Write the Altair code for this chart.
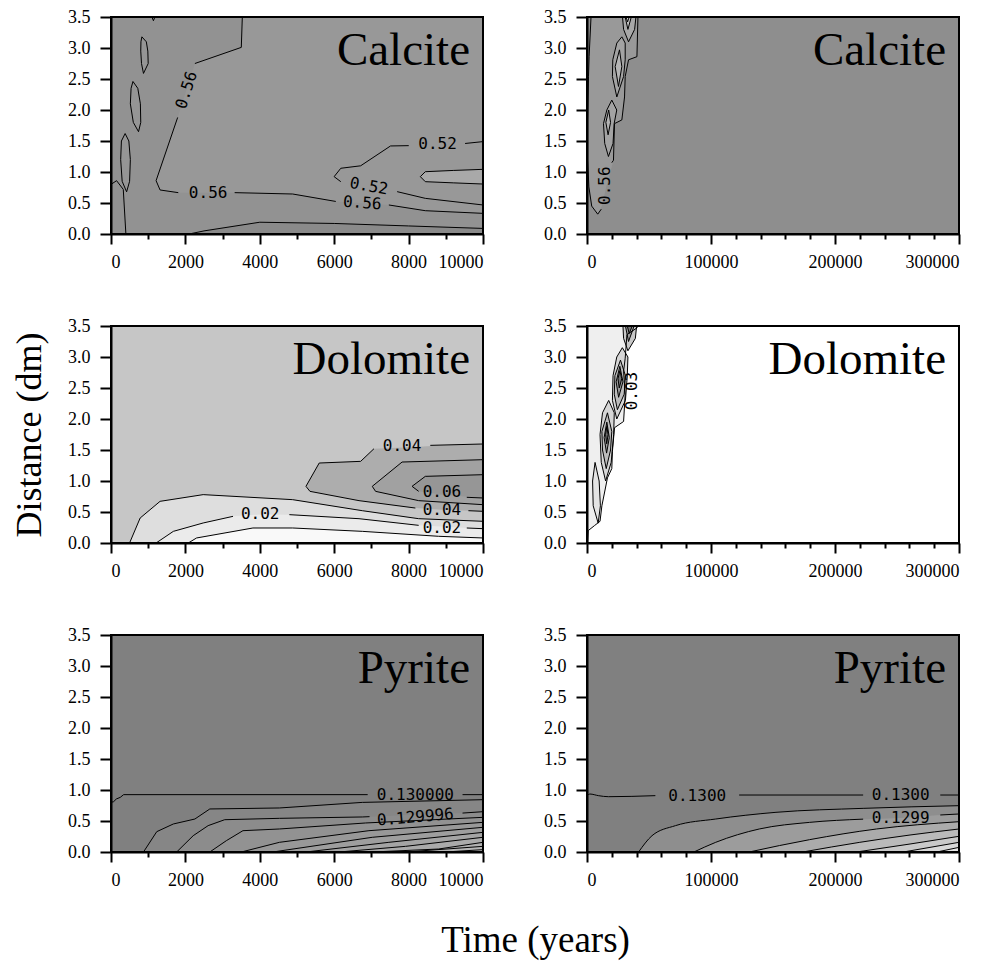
import altair as alt
import pandas as pd

W, H = 372, 217
YMAX = 3.5
Y_TICKS = [0.0, 0.5, 1.0, 1.5, 2.0, 2.5, 3.0, 3.5]

# ================= Calcite, 0-10 000 years =================
CAL_L_NAME = "Calcite"
CAL_L_BG = "#929292"
CAL_L_SPAN_B = [(0.86, 1212, 10000), (1.88, 1792, 10000), (2.75, 2255, 10000),
                (3.01, 3503, 10000), (3.5, 3530, 10000)]
CAL_L_BAND_B = [(1212, 0.86, 0.87), (1319, 0.71, 0.87), (1809, 0.667, 0.87), (3324, 0.667, 0.87),
                (4884, 0.645, 0.87), (6043, 0.525, 0.87), (7469, 0.468, 0.87), (8449, 0.376, 0.87),
                (10000, 0.333, 0.87)]
CAL_L_FLOOR = [(2100, 0, 0), (2500, 0, 0.05), (4000, 0, 0.19), (6000, 0, 0.17),
               (8000, 0, 0.13), (10000, 0, 0.09)]
CAL_L_FILLS = [("h", CAL_L_SPAN_B), ("v", CAL_L_BAND_B), ("v", CAL_L_FLOOR)]
CAL_L_FILL_SHADES = ["#989898", "#989898", "#8a8a8a"]
CAL_L_OVAL_R = [(8316, 0.925, 0.925), (8449, 0.844, 1.005), (9200, 0.825, 1.025), (10000, 0.806, 1.043)]
CAL_L_OVAL_1 = [(2.59, 873, 873), (2.75, 820, 1000), (2.95, 800, 990), (3.10, 805, 950), (3.18, 830, 830)]
CAL_L_OVAL_2 = [(1.65, 740, 740), (1.8, 600, 800), (2.1, 520, 790), (2.35, 540, 720), (2.46, 590, 590)]
CAL_L_OVAL_3 = [(0.68, 420, 420), (0.85, 300, 500), (1.2, 260, 520), (1.5, 280, 480), (1.62, 380, 380)]
CAL_L_RINGS = [("v", CAL_L_OVAL_R), ("h", CAL_L_OVAL_1), ("h", CAL_L_OVAL_2), ("h", CAL_L_OVAL_3)]
CAL_L_RING_SHADES = ["#a9a9a9", "#959595", "#959595", "#959595"]
CAL_L_LINES = [
    [(3530, 3.5), (3503, 3.01), (2255, 2.75)],
    [(1792, 1.88), (1212, 0.86), (1319, 0.71), (1809, 0.667)],
    [(3324, 0.667), (4884, 0.645), (6043, 0.525)],
    [(7469, 0.468), (8449, 0.376), (10000, 0.333)],
    [(10000, 1.49), (9519, 1.46)],
    [(8004, 1.425), (7514, 1.42), (6711, 1.10), (6177, 1.06), (5998, 0.925), (6177, 0.844)],
    [(7692, 0.683), (8449, 0.575), (10000, 0.468)],
    [(2100, 0), (2500, 0.05), (4000, 0.19), (6000, 0.17), (8000, 0.13), (10000, 0.09)],
    [(0, 0.8), (150, 0.86), (330, 0.72), (400, 0)],
    [(1100, 3.5), (1140, 3.44), (1180, 3.5)],
]
CAL_L_LABELS = [("0.56", 2032, 2.32, 288), ("0.56", 2611, 0.667, 0), ("0.56", 6756, 0.50, 4),
                ("0.52", 8779, 1.45, 0), ("0.52", 6934, 0.77, 10)]

# ================= Calcite, 0-300 000 years =================
CAL_R_NAME = "Calcite"
CAL_R_BG = "#8e8e8e"
CAL_R_SPAN = [(0.32, 8650, 8650), (0.45, 3800, 12000), (0.76, 1500, 15500), (1.19, 540, 21350),
              (1.78, 540, 22160), (1.84, 540, 28100), (2.21, 800, 30270), (2.54, 1200, 30800),
              (2.81, 1600, 33500), (2.86, 1700, 40270), (3.5, 3240, 41080)]
CAL_R_FILLS = [("h", CAL_R_SPAN)]
CAL_R_FILL_SHADES = ["#999999"]
CAL_R_A = [(1.25, 17300, 17300), (1.46, 14300, 21000), (1.78, 13300, 21900), (2.0, 16000, 24000), (2.16, 20000, 20000)]
CAL_R_A_IN = [(1.6, 17000, 17000), (1.8, 15200, 19000), (2.0, 17500, 17500)]
CAL_R_B = [(2.21, 24050, 24050), (2.54, 20500, 29500), (2.81, 20800, 30800), (3.08, 24050, 30800), (3.18, 28100, 28100)]
CAL_R_B_IN = [(2.38, 25400, 25400), (2.70, 22700, 28100), (2.97, 26200, 26200)]
CAL_R_C = [(3.1, 33500, 33500), (3.3, 29500, 38400), (3.5, 28650, 39460)]
CAL_R_C_IN = [(3.3, 33000, 33000), (3.5, 30800, 35700)]
CAL_R_C_IN2 = [(3.42, 32700, 32700), (3.5, 31600, 34000)]
CAL_R_RINGS = [("h", CAL_R_A), ("h", CAL_R_A_IN), ("h", CAL_R_B), ("h", CAL_R_B_IN),
               ("h", CAL_R_C), ("h", CAL_R_C_IN), ("h", CAL_R_C_IN2)]
CAL_R_RING_SHADES = ["#a3a3a3", "#b3b3b3", "#a3a3a3", "#b5b5b5", "#a8a8a8", "#c4c4c4", "#e6e6e6"]
CAL_R_LINES = [
    [(3240, 3.5), (1700, 2.86), (1200, 2.54), (540, 1.84), (540, 1.19), (1500, 0.76),
     (3800, 0.45), (8650, 0.32), (11500, 0.40)],
    [(20000, 1.15), (21350, 1.19), (22160, 1.78), (28100, 1.84), (30270, 2.21), (30800, 2.54),
     (33500, 2.81), (40270, 2.86), (41080, 3.5)],
]
CAL_R_LABELS = [("0.56", 14600, 0.78, 270)]

# ================= Dolomite, 0-10 000 years =================
DOL_L_NAME = "Dolomite"
DOL_L_BG = "#c6c6c6"
DOL_L_C1 = [(2077, 0), (2300, 0.081), (3815, 0.242), (4884, 0.242), (6756, 0.188), (8806, 0.108), (10000, 0.081)]
DOL_L_C2 = [(1212, 0), (1676, 0.188), (2478, 0.323), (3280, 0.43), (4011, 0.46), (4795, 0.457),
            (6667, 0.392), (8271, 0.285), (9564, 0.242), (10000, 0.231)]
DOL_L_C3 = [(499, 0), (784, 0.403), (1319, 0.672), (2478, 0.78), (4884, 0.699), (6756, 0.521),
            (8271, 0.392), (10000, 0.35)]
DOL_L_C4 = [(5241, 0.914, 0.914), (5348, 0.833, 1.027), (5597, 0.805, 1.29), (6711, 0.68, 1.317),
            (7068, 0.651, 1.52), (8182, 0.564, 1.55), (8895, 0.538, 1.575), (10000, 0.511, 1.597)]
DOL_L_C5 = [(7023, 0.914, 0.914), (7112, 0.833, 0.957), (7825, 0.741, 1.306), (8271, 0.683, 1.32),
            (10000, 0.618, 1.344)]
DOL_L_C6 = [(8093, 0.914, 0.914), (8271, 0.833, 0.995), (8449, 0.82, 1.075), (8895, 0.78, 1.09),
            (10000, 0.726, 1.102)]
DOL_L_FILLS = [("v", [(x, 0, y) for x, y in DOL_L_C3]), ("v", [(x, 0, y) for x, y in DOL_L_C2]),
               ("v", [(x, 0, y) for x, y in DOL_L_C1]), ("v", DOL_L_C4), ("v", DOL_L_C5), ("v", DOL_L_C6)]
DOL_L_FILL_SHADES = ["#dedede", "#ebebeb", "#f9f9f9", "#adadad", "#a1a1a1", "#969696"]
DOL_L_RINGS = []
DOL_L_RING_SHADES = []
DOL_L_LINES = [
    DOL_L_C1,
    [(1212, 0), (1676, 0.188), (2478, 0.323), (3280, 0.43)],
    [(4795, 0.457), (6667, 0.392), (8271, 0.285)],
    [(9564, 0.242), (10000, 0.231)],
    DOL_L_C3,
    [(10000, 1.597), (8583, 1.575)],
    [(7068, 1.52), (6711, 1.317), (5597, 1.29), (5241, 0.914), (5348, 0.833), (6667, 0.683), (8182, 0.564)],
    [(9608, 0.521), (10000, 0.511)],
    [(10000, 1.344), (7825, 1.306), (7023, 0.914), (7112, 0.833), (8271, 0.683), (10000, 0.618)],
    [(10000, 1.102), (8449, 1.075), (8093, 0.914), (8271, 0.833)],
    [(9564, 0.737), (10000, 0.726)],
]
DOL_L_LABELS = [("0.02", 4011, 0.468, 0), ("0.02", 8895, 0.25, 0), ("0.04", 7825, 1.56, 0),
                ("0.04", 8895, 0.535, 0), ("0.06", 8895, 0.82, 0)]

# ================= Dolomite, 0-300 000 years =================
DOL_R_NAME = "Dolomite"
DOL_R_BG = "#ffffff"
DOL_R_ENV = [(0.0, 0, 500), (0.20, 0, 1000), (0.28, 0, 6000), (0.35, 0, 10500), (0.60, 0, 12000),
             (1.05, 0, 16500), (1.20, 0, 20000), (1.48, 0, 20500), (1.86, 0, 22200), (1.96, 0, 29500),
             (2.39, 0, 30800), (2.77, 0, 29500), (2.98, 0, 30800), (3.36, 0, 32200), (3.47, 0, 40300),
             (3.5, 0, 41000)]
DOL_R_FILLS = [("h", DOL_R_ENV)]
DOL_R_FILL_SHADES = ["#efefef"]
DOL_R_LOW = [(0.32, 9000, 9000), (0.6, 5000, 10800), (1.0, 4500, 9800), (1.3, 6500, 6500)]
DOL_R_L1A = [(1.0, 15000, 15000), (1.3, 11500, 19500), (1.75, 10500, 21500), (2.1, 12500, 22000), (2.3, 17500, 17500)]
DOL_R_L1B = [(1.2, 15500, 15500), (1.5, 12500, 19000), (1.8, 12000, 20000), (2.1, 16500, 16500)]
DOL_R_L1C = [(1.45, 15800, 15800), (1.7, 13800, 18000), (1.95, 16000, 16000)]
DOL_R_L1D = [(1.6, 15900, 15900), (1.75, 15000, 17000), (1.88, 16000, 16000)]
DOL_R_L2A = [(2.0, 24000, 24000), (2.3, 20500, 31000), (2.7, 21000, 32500), (3.0, 24000, 33000), (3.15, 28500, 28500)]
DOL_R_L2B = [(2.15, 24500, 24500), (2.4, 22000, 30000), (2.7, 22500, 31000), (2.95, 27000, 27000)]
DOL_R_L2C = [(2.35, 25500, 25500), (2.6, 23500, 29000), (2.85, 26500, 26500)]
DOL_R_L2D = [(2.5, 26000, 26000), (2.65, 25000, 28000), (2.78, 26500, 26500)]
DOL_R_L3A = [(3.1, 33000, 33000), (3.3, 29500, 39000), (3.5, 29000, 40000)]
DOL_R_L3B = [(3.25, 33500, 33500), (3.5, 31000, 38000)]
DOL_R_L3C = [(3.38, 34000, 34000), (3.5, 32500, 36500)]
DOL_R_RINGS = [("h", r) for r in [DOL_R_LOW, DOL_R_L1A, DOL_R_L1B, DOL_R_L1C, DOL_R_L1D,
                                  DOL_R_L2A, DOL_R_L2B, DOL_R_L2C, DOL_R_L2D,
                                  DOL_R_L3A, DOL_R_L3B, DOL_R_L3C]]
DOL_R_RING_SHADES = ["#e4e4e4", "#d6d6d6", "#bcbcbc", "#9c9c9c", "#7c7c7c",
                     "#d6d6d6", "#bcbcbc", "#9c9c9c", "#747474",
                     "#c8c8c8", "#a0a0a0", "#787878"]
DOL_R_LINES = [[(x, y) for y, _, x in DOL_R_ENV]]
DOL_R_LABELS = [("0.03", 36200, 2.45, 270)]

# ================= Pyrite, 0-10 000 years =================
PYR_L_NAME = "Pyrite"
PYR_L_BG = "#808080"
PYR_L_P1 = [(873, 0), (1230, 0.328), (1676, 0.452), (2255, 0.532), (2656, 0.694), (4528, 0.71), (6756, 0.80), (10000, 0.844)]
PYR_L_P2 = [(1765, 0), (2210, 0.263), (2611, 0.425), (3057, 0.521), (4528, 0.543), (6756, 0.565),
            (8182, 0.60), (9564, 0.63), (10000, 0.65)]
PYR_L_P3 = [(2656, 0), (3102, 0.183), (3547, 0.344), (4528, 0.371), (6845, 0.468), (10000, 0.559)]
PYR_L_P4 = [(3503, 0), (4528, 0.156), (6934, 0.344), (10000, 0.478)]
PYR_L_P5 = [(4350, 0), (7023, 0.237), (10000, 0.398)]
PYR_L_P6 = [(5241, 0), (7469, 0.156), (10000, 0.317)]
PYR_L_P7 = [(6132, 0), (7915, 0.091), (10000, 0.237)]
PYR_L_P8 = [(7023, 0), (8806, 0.048), (10000, 0.156)]
PYR_L_P9 = [(7915, 0), (10000, 0.091)]
PYR_L_P10 = [(8984, 0), (10000, 0.038)]
PYR_L_CURVES = [PYR_L_P1, PYR_L_P2, PYR_L_P3, PYR_L_P4, PYR_L_P5, PYR_L_P6, PYR_L_P7, PYR_L_P8, PYR_L_P9, PYR_L_P10]
PYR_L_FILLS = [("v", [(x, 0, y) for x, y in c]) for c in PYR_L_CURVES]
PYR_L_FILL_SHADES = ["#868686", "#8c8c8c", "#929292", "#989898", "#9e9e9e",
                     "#a4a4a4", "#aaaaaa", "#b0b0b0", "#b6b6b6", "#bcbcbc"]
PYR_L_RINGS = []
PYR_L_RING_SHADES = []
PYR_L_LINES = [
    [(0, 0.80), (71, 0.812), (143, 0.855), (250, 0.882), (339, 0.925), (6900, 0.925)],
    [(9450, 0.925), (10000, 0.925)],
    PYR_L_P1,
    [(1765, 0), (2210, 0.263), (2611, 0.425), (3057, 0.521), (4528, 0.543), (6756, 0.565), (6950, 0.57)],
    [(9450, 0.628), (10000, 0.65)],
    PYR_L_P3, PYR_L_P4, PYR_L_P5, PYR_L_P6, PYR_L_P7, PYR_L_P8, PYR_L_P9, PYR_L_P10,
]
PYR_L_LABELS = [("0.130000", 8182, 0.922, 0), ("0.129996", 8182, 0.56, 355)]

# ================= Pyrite, 0-300 000 years =================
PYR_R_NAME = "Pyrite"
PYR_R_BG = "#808080"
PYR_R_Q1 = [(41620, 0), (52430, 0.263), (71350, 0.425), (103800, 0.532), (152400, 0.64), (222700, 0.704), (300000, 0.747)]
PYR_R_Q2 = [(86200, 0), (103800, 0.156), (138900, 0.371), (179500, 0.478), (222700, 0.53),
            (253000, 0.55), (284900, 0.597), (300000, 0.613)]
PYR_R_Q3 = [(130800, 0), (179500, 0.199), (233500, 0.371), (300000, 0.489)]
PYR_R_Q4 = [(174000, 0), (220000, 0.156), (260500, 0.274), (300000, 0.371)]
PYR_R_Q5 = [(217300, 0), (260500, 0.129), (300000, 0.253)]
PYR_R_Q6 = [(255100, 0), (300000, 0.156)]
PYR_R_Q7 = [(282200, 0), (300000, 0.075)]
PYR_R_CURVES = [PYR_R_Q1, PYR_R_Q2, PYR_R_Q3, PYR_R_Q4, PYR_R_Q5, PYR_R_Q6, PYR_R_Q7]
PYR_R_FILLS = [("v", [(x, 0, y) for x, y in c]) for c in PYR_R_CURVES]
PYR_R_FILL_SHADES = ["#8e8e8e", "#9c9c9c", "#ababab", "#bababa", "#c9c9c9", "#d8d8d8", "#e6e6e6"]
PYR_R_RINGS = []
PYR_R_RING_SHADES = []
PYR_R_LINES = [
    [(0, 0.909), (2430, 0.935), (9190, 0.909), (17300, 0.892), (55135, 0.909)],
    [(122700, 0.919), (222700, 0.919)],
    [(284900, 0.919), (300000, 0.919)],
    PYR_R_Q1,
    [(86200, 0), (103800, 0.156), (138900, 0.371), (179500, 0.478), (222700, 0.53)],
    [(284900, 0.597), (300000, 0.613)],
    PYR_R_Q3, PYR_R_Q4, PYR_R_Q5, PYR_R_Q6, PYR_R_Q7,
]
PYR_R_LABELS = [("0.1300", 88900, 0.909, 0), ("0.1300", 253000, 0.919, 0), ("0.1299", 253000, 0.55, 0)]

ONE = pd.DataFrame({"k": [0]})
SERIF = "Liberation Serif"


def ring_outline(kind, pts):
    if kind == "v":
        fwd = [(x, hi) for x, lo, hi in pts]
        back = [(x, lo) for x, lo, hi in reversed(pts)]
    else:
        fwd = [(xr, y) for y, xl, xr in pts]
        back = [(xl, y) for y, xl, xr in reversed(pts)]
    out = fwd + back
    return out + [out[0]]


def build_panel(name, xmax, major, minor, bg, fills, fill_shades, rings, ring_shades,
                lines, labels, xtitle=None, ytitle=None, interp="linear"):
    xscale = alt.Scale(domain=[0, xmax], nice=False, zero=False)
    yscale = alt.Scale(domain=[0, YMAX], nice=False, zero=False)
    common = dict(labelFont=SERIF, labelFontSize=18, labelColor="black", tickColor="black",
                  tickWidth=2, domainColor="black", domainWidth=2, grid=False, zindex=1)
    xkw = dict(values=list(range(0, xmax + 1, minor)), format="d",
               labelExpr=f"datum.value % {major} === 0 ? datum.label : ''",
               tickSize={"condition": {"test": f"datum.value % {major} === 0", "value": 10}, "value": 5},
               labelPadding=9, **common)
    if xtitle:
        xkw.update(titleX=424, titleY=99, titleBaseline="alphabetic", titleAlign="center",
                   titleFont=SERIF, titleFontSize=37, titleFontWeight="normal",
                   titleColor="black")
    ykw = dict(values=Y_TICKS, format=".1f", tickSize=11, labelPadding=10, **common)
    if ytitle:
        ykw.update(titleX=-71, titleY=H / 2, titleBaseline="alphabetic", titleAlign="center",
                   titleFont=SERIF, titleFontSize=36, titleFontWeight="normal",
                   titleColor="black")
    xaxis = alt.Axis(**xkw)
    yaxis = alt.Axis(**ykw)

    def X(f):
        return alt.X(f, type="quantitative", scale=xscale, axis=xaxis, title=xtitle, stack=None)

    def Y(f):
        return alt.Y(f, type="quantitative", scale=yscale, axis=yaxis, title=ytitle, stack=None)

    layers = [alt.Chart(ONE).mark_rect(color=bg).encode(
        x=alt.value(0), x2=alt.value(W), y=alt.value(0), y2=alt.value(H))]

    def area_layer(kind, pts, shade):
        if kind == "v":
            df = pd.DataFrame(pts, columns=["x", "lo", "hi"])
            return alt.Chart(df).mark_area(color=shade, orient="vertical", interpolate=interp,
                                           clip=True).encode(x=X("x"), y=Y("lo"), y2="hi")
        df = pd.DataFrame(pts, columns=["y", "xl", "xr"])
        return alt.Chart(df).mark_area(color=shade, orient="horizontal", clip=True).encode(
            y=Y("y"), x=X("xl"), x2="xr")

    for (kind, pts), shade in zip(fills, fill_shades):
        layers.append(area_layer(kind, pts, shade))
    for (kind, pts), shade in zip(rings, ring_shades):
        layers.append(area_layer(kind, pts, shade))

    rows = []
    all_lines = list(lines) + [ring_outline(k, p) for k, p in rings]
    for s, seg in enumerate(all_lines):
        for i, (x, y) in enumerate(seg):
            rows.append({"seg": s, "idx": i, "x": x, "y": y})
    ldf = pd.DataFrame(rows)
    layers.append(alt.Chart(ldf).mark_line(color="black", strokeWidth=1, interpolate=interp,
                                           clip=True).encode(
        x=X("x"), y=Y("y"), detail="seg:N", order="idx:Q"))

    tdf = pd.DataFrame(labels, columns=["t", "x", "y", "a"])
    layers.append(alt.Chart(tdf).mark_text(font="DejaVu Sans Mono", fontSize=16, color="black",
                                           align="center", baseline="middle").encode(
        x=X("x"), y=Y("y"), text="t:N", angle=alt.Angle("a:Q", scale=None)))

    layers.append(alt.Chart(pd.DataFrame({"name": [name]})).mark_text(
        font=SERIF, fontSize=47, color="black", align="right",
        baseline="alphabetic").encode(text="name:N", x=alt.value(W - 13), y=alt.value(48)))

    layers.append(alt.Chart(ONE).mark_rect(filled=False, stroke="black", strokeWidth=2).encode(
        x=alt.value(0), x2=alt.value(W), y=alt.value(0), y2=alt.value(H)))

    return alt.layer(*layers).properties(width=W, height=H)


p1 = build_panel(CAL_L_NAME, 10000, 2000, 1000, CAL_L_BG, CAL_L_FILLS, CAL_L_FILL_SHADES,
                 CAL_L_RINGS, CAL_L_RING_SHADES, CAL_L_LINES, CAL_L_LABELS)
p2 = build_panel(CAL_R_NAME, 300000, 100000, 20000, CAL_R_BG, CAL_R_FILLS, CAL_R_FILL_SHADES,
                 CAL_R_RINGS, CAL_R_RING_SHADES, CAL_R_LINES, CAL_R_LABELS)
p3 = build_panel(DOL_L_NAME, 10000, 2000, 1000, DOL_L_BG, DOL_L_FILLS, DOL_L_FILL_SHADES,
                 DOL_L_RINGS, DOL_L_RING_SHADES, DOL_L_LINES, DOL_L_LABELS, ytitle="Distance (dm)")
p4 = build_panel(DOL_R_NAME, 300000, 100000, 20000, DOL_R_BG, DOL_R_FILLS, DOL_R_FILL_SHADES,
                 DOL_R_RINGS, DOL_R_RING_SHADES, DOL_R_LINES, DOL_R_LABELS)
p5 = build_panel(PYR_L_NAME, 10000, 2000, 1000, PYR_L_BG, PYR_L_FILLS, PYR_L_FILL_SHADES,
                 PYR_L_RINGS, PYR_L_RING_SHADES, PYR_L_LINES, PYR_L_LABELS, xtitle="Time (years)")
p6 = build_panel(PYR_R_NAME, 300000, 100000, 20000, PYR_R_BG, PYR_R_FILLS, PYR_R_FILL_SHADES,
                 PYR_R_RINGS, PYR_R_RING_SHADES, PYR_R_LINES, PYR_R_LABELS, interp="monotone")

chart = alt.concat(p1, p2, p3, p4, p5, p6, columns=2, spacing={"row": 92, "column": 104},
                   bounds="flush").properties(
    padding={"left": 2, "top": 0, "right": 5, "bottom": 5}
).configure_view(strokeWidth=0)

chart.save("out.html", embed_options={"renderer": "svg", "actions": False})
